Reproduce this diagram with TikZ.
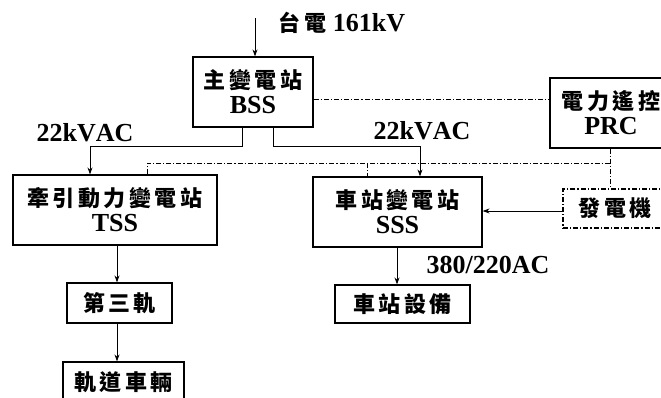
\documentclass[tikz,border=0pt]{standalone}
\usepackage{fontspec}
\setmainfont[Kerning=Off]{Liberation Serif}
\newfontfamily\cjkf{Noto Sans CJK TC}
\usetikzlibrary{arrows.meta}
\def\gob#1{}
\def\spcA#1#2{#1\ifx\relax#2\expandafter\gob\else\kern3.5pt\fi\spcA#2}
\def\cj#1{{\cjkf\bfseries\fontsize{22}{25}\selectfont\spcA#1\relax}}
\tikzset{
  box/.style={draw, line width=1.2pt, inner sep=0pt, align=center,
    font=\bfseries\fontsize{26}{25}\selectfont},
  lbl/.style={inner sep=0pt, font=\bfseries\fontsize{26}{25}\selectfont},
  dd/.style={line width=0.9pt, dash pattern=on 5pt off 2pt on 1.2pt off 2pt},
  arr/.style={line width=0.9pt, -{Stealth[length=7pt,width=5pt]}},
  ln/.style={line width=0.9pt}
}
\begin{document}
\begin{tikzpicture}[x=1pt,y=-1pt]
\useasboundingbox (0,0) rectangle (661,397);
\fill[white] (0,0) rectangle (661,397);
\clip (0,0) rectangle (661,397);
% boxes
\node[box, minimum width=120, minimum height=70] (BSS) at (253,92) {\cj{主變電站}\\BSS};
\node[box, minimum width=204, minimum height=70] (TSS) at (115,210) {\cj{牽引動力變電站}\\TSS};
\node[box, minimum width=169, minimum height=70] (SSS) at (397.5,212) {\cj{車站變電站}\\SSS};
\node[box, minimum width=122, minimum height=70] (PRC) at (611,113) {\cj{電力遙控}\\PRC};
\node[box, dd, line width=1.1pt, minimum width=104, minimum height=39] (GEN) at (615,208.5) {\cj{發電機}};
\node[box, minimum width=105, minimum height=40] (R3) at (119.5,303) {\cj{第三軌}};
\node[box, minimum width=121, minimum height=40] (VEH) at (123.5,382) {\cj{軌道車輛}};
\node[box, minimum width=135, minimum height=38] (EQ) at (402.5,304) {\cj{車站設備}};
% labels
\node[lbl] (Lin) at (342,23) {\cj{台電}\ 161kV};
\node[lbl] (L1) at (85,133) {22kVAC};
\node[lbl] (L2) at (422,131) {22kVAC};
\node[lbl] (L3) at (488,265) {380/220AC};
% coordinates
\coordinate (src) at (255,18);
\coordinate (j1) at (242,146);
\coordinate (j2) at (273,146);
\coordinate (t1) at (90,0);
\coordinate (s1) at (420,0);
\coordinate (c99) at (0,99);
\coordinate (d1) at (147,163);
\coordinate (d2) at (610,163);
\coordinate (d3) at (367,163);
\coordinate (g1) at (0,211);
\coordinate (x117) at (117,0);
\coordinate (x397) at (397,0);
% connectors
\draw[arr] (src) -- (src |- BSS.north);
\draw[arr] (j1 |- BSS.south) -- (j1) -| (t1 |- TSS.north);
\draw[arr] (j2 |- BSS.south) -- (j2) -| (s1 |- SSS.north);
\draw[dd] (BSS.east |- c99) -- (PRC.west |- c99);
\draw[dd] (d1 |- TSS.north) -- (d1) -- (d2);
\draw[dd] (d3) -- (d3 |- SSS.north);
\draw[dd] (d2 |- PRC.south) -- (d2 |- GEN.north);
\draw[arr] (GEN.west |- g1) -- (SSS.east |- g1);
\draw[arr] (x397 |- SSS.south) -- (x397 |- EQ.north);
\draw[arr] (x117 |- TSS.south) -- (x117 |- R3.north);
\draw[arr] (x117 |- R3.south) -- (x117 |- VEH.north);
\end{tikzpicture}
\end{document}
